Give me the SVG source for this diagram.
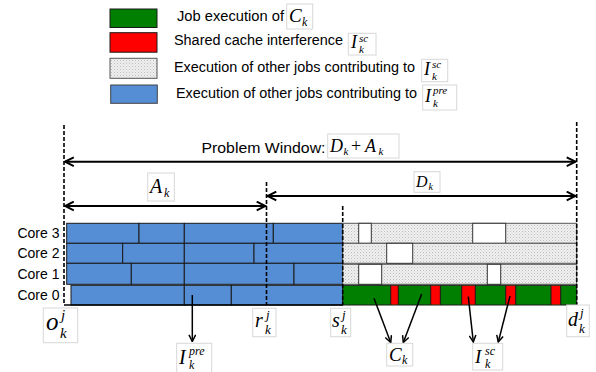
<svg xmlns="http://www.w3.org/2000/svg" width="596" height="372" viewBox="0 0 596 372">
  <style>
    .lbl { font-family: "Liberation Sans", Arial, sans-serif; fill: #000; }
    .math { font-family: "Liberation Serif", "DejaVu Serif", serif; font-style: italic; fill: #000; }
    .up { font-style: normal; }
    .mbox { fill: #fff; stroke: #d8d8d8; stroke-width: 1; }
    .blue { fill: #558ed5; stroke: #1a1a1a; stroke-width: 1; }
    .dot { fill: url(#dots); stroke: #555; stroke-width: 1; }
    .gap { fill: #fff; stroke: #333; stroke-width: 1; }
    .green { fill: #007f00; stroke: #1a1a1a; stroke-width: 1; }
    .red { fill: #ff0000; stroke: none; }
    .dash { stroke: #000; stroke-width: 1.6; stroke-dasharray: 4 2; fill: none; }
    .span { stroke: #000; stroke-width: 2; fill: none; marker-start: url(#open-start); marker-end: url(#open-end); }
    .ptr { stroke: #000; stroke-width: 1.5; fill: none; marker-end: url(#open-end); }
  </style>
  <defs>
    <pattern id="dots" width="3" height="3" patternUnits="userSpaceOnUse">
      <rect width="3" height="3" fill="#efefef"/>
      <rect x="0" y="0" width="1" height="1" fill="#bdbdbd"/>
      <rect x="1.5" y="1.5" width="1" height="1" fill="#cfcfcf"/>
    </pattern>
    <marker id="open-end" viewBox="0 0 10 10" refX="9" refY="5" markerWidth="5.5" markerHeight="5.5" orient="auto" markerUnits="strokeWidth">
      <path d="M1,1 L9,5 L1,9" fill="none" stroke="#000" stroke-width="1.8"/>
    </marker>
    <marker id="open-start" viewBox="0 0 10 10" refX="1" refY="5" markerWidth="5.5" markerHeight="5.5" orient="auto" markerUnits="strokeWidth">
      <path d="M9,1 L1,5 L9,9" fill="none" stroke="#000" stroke-width="1.8"/>
    </marker>
  </defs>

  <!-- legend -->
  <g id="legend">
    <g id="legend-job">
      <rect x="110" y="9" width="47" height="18.5" class="green"/>
      <text class="lbl" x="177" y="21" font-size="14" textLength="107" lengthAdjust="spacingAndGlyphs">Job execution of</text>
      <rect class="mbox" x="286.7" y="4" width="26" height="25"/>
      <text class="math" x="289" y="22" font-size="19">C</text>
      <text class="math" x="302" y="26" font-size="12">k</text>
    </g>
    <g id="legend-interference">
      <rect x="110" y="32.7" width="47" height="19.5" fill="#ff0000" stroke="#1a1a1a"/>
      <text class="lbl" x="174" y="45" font-size="14" textLength="169" lengthAdjust="spacingAndGlyphs">Shared cache interference</text>
      <rect class="mbox" x="348.3" y="33.3" width="27.7" height="21.7"/>
      <text class="math" x="351" y="48" font-size="18">I</text>
      <text class="math" x="359" y="42" font-size="11">sc</text>
      <text class="math" x="359" y="53" font-size="11">k</text>
    </g>
    <g id="legend-other-sc">
      <rect x="110" y="58.3" width="47" height="20" class="dot"/>
      <text class="lbl" x="174" y="72" font-size="14" textLength="241" lengthAdjust="spacingAndGlyphs">Execution of other jobs contributing to</text>
      <rect class="mbox" x="421.7" y="59.3" width="26" height="22.4"/>
      <text class="math" x="424" y="75" font-size="18">I</text>
      <text class="math" x="432" y="68" font-size="11">sc</text>
      <text class="math" x="432" y="80" font-size="11">k</text>
    </g>
    <g id="legend-other-pre">
      <rect x="110.7" y="85" width="46.6" height="18.3" fill="#558ed5" stroke="#444"/>
      <text class="lbl" x="176" y="98" font-size="14" textLength="241" lengthAdjust="spacingAndGlyphs">Execution of other jobs contributing to</text>
      <rect class="mbox" x="422.7" y="85" width="34" height="25"/>
      <text class="math" x="425" y="102" font-size="18">I</text>
      <text class="math" x="433" y="94" font-size="11">pre</text>
      <text class="math" x="433" y="107" font-size="11">k</text>
    </g>
  </g>

  <!-- core labels -->
  <g id="core-labels" class="lbl" font-size="14" text-anchor="end">
    <text x="59.5" y="238">Core 3</text>
    <text x="59.5" y="258">Core 2</text>
    <text x="59.5" y="278.5">Core 1</text>
    <text x="59.5" y="300">Core 0</text>
  </g>

  <!-- blue: other jobs before s_k -->
  <g id="pre-jobs">
    <rect class="blue" x="66.7" y="223.3" width="72.3" height="20"/>
    <rect class="blue" x="139" y="223.3" width="45.3" height="20"/>
    <rect class="blue" x="184.3" y="223.3" width="89" height="20" stroke-width="1.5"/>
    <rect class="blue" x="273.3" y="223.3" width="69.4" height="20"/>

    <rect class="blue" x="66.7" y="243.3" width="56" height="20"/>
    <rect class="blue" x="122.7" y="243.3" width="61.6" height="20"/>
    <rect class="blue" x="184.3" y="243.3" width="69.7" height="20"/>
    <rect class="blue" x="254" y="243.3" width="88.7" height="20"/>

    <rect class="blue" x="66.7" y="263.3" width="64.6" height="21"/>
    <rect class="blue" x="131.3" y="263.3" width="53" height="21"/>
    <rect class="blue" x="184.3" y="263.3" width="109.7" height="21"/>
    <rect class="blue" x="294" y="263.3" width="48.7" height="21"/>

    <rect class="blue" x="71" y="285.3" width="113.3" height="19.7"/>
    <rect class="blue" x="184.3" y="285.3" width="47" height="19.7"/>
    <rect class="blue" x="231.3" y="285.3" width="111.4" height="19.7"/>
  </g>

  <!-- dotted / idle: other jobs after s_k -->
  <g id="sc-jobs">
    <rect class="dot" x="342.7" y="223.3" width="234" height="20"/>
    <rect class="gap" x="358.7" y="223.3" width="12.6" height="20"/>
    <rect class="gap" x="472.7" y="223.3" width="33" height="20"/>

    <rect class="dot" x="342.7" y="243.3" width="234" height="20"/>
    <rect class="gap" x="386.7" y="243.3" width="26" height="20" stroke-width="1.5"/>

    <rect class="dot" x="342.7" y="264.3" width="234" height="20"/>
    <rect class="gap" x="358.7" y="264.3" width="23" height="20"/>
    <rect class="gap" x="487.3" y="264.3" width="13.4" height="20"/>
  </g>

  <!-- core 0: job C_k with shared cache interference -->
  <g id="core0-job">
    <rect class="green" x="342.7" y="285.3" width="234" height="19.7"/>
    <rect class="red" x="390.7" y="285.8" width="7.6" height="18.7"/>
    <rect class="red" x="430.7" y="285.8" width="9.6" height="18.7"/>
    <rect class="red" x="461.7" y="285.8" width="13.6" height="18.7"/>
    <rect class="red" x="505.7" y="285.8" width="10" height="18.7"/>
    <rect class="red" x="551" y="285.8" width="9.7" height="18.7"/>
    <g stroke="#1a1a1a" stroke-width="1">
      <line x1="390.7" y1="285.3" x2="390.7" y2="305"/>
      <line x1="398.3" y1="285.3" x2="398.3" y2="305"/>
      <line x1="430.7" y1="285.3" x2="430.7" y2="305"/>
      <line x1="440.3" y1="285.3" x2="440.3" y2="305"/>
      <line x1="461.7" y1="285.3" x2="461.7" y2="305"/>
      <line x1="475.3" y1="285.3" x2="475.3" y2="305"/>
      <line x1="505.7" y1="285.3" x2="505.7" y2="305"/>
      <line x1="515.7" y1="285.3" x2="515.7" y2="305"/>
      <line x1="551" y1="285.3" x2="551" y2="305"/>
      <line x1="560.7" y1="285.3" x2="560.7" y2="305"/>
    </g>
  </g>

  <!-- connectors: time markers, spans and label pointers -->
  <g id="connectors">
    <line x1="64" y1="305" x2="343" y2="305" stroke="#000" stroke-width="1.5"/>
    <line class="dash" x1="64" y1="125" x2="64" y2="305"/>
    <line class="dash" x1="266.5" y1="182" x2="266.5" y2="305"/>
    <line class="dash" x1="342.7" y1="206" x2="342.7" y2="305"/>
    <line class="dash" x1="576.7" y1="122" x2="576.7" y2="305"/>

    <line class="span" x1="65" y1="161.7" x2="575.5" y2="161.7"/>
    <line class="span" x1="65" y1="206" x2="265.5" y2="206"/>
    <line class="span" x1="267.5" y1="196" x2="575.5" y2="196"/>

    <line class="ptr" x1="192.3" y1="295" x2="192.3" y2="341.5"/>
    <line class="ptr" x1="374" y1="298.3" x2="390.7" y2="342.5"/>
    <line class="ptr" x1="421.7" y1="294" x2="403.3" y2="342.5"/>
    <line class="ptr" x1="468.3" y1="296.7" x2="473.3" y2="342"/>
    <line class="ptr" x1="510" y1="296" x2="498.3" y2="342"/>
  </g>

  <!-- span labels -->
  <g id="window-label">
    <text class="lbl" x="201.5" y="153" font-size="15.5" textLength="124" lengthAdjust="spacingAndGlyphs">Problem Window:</text>
    <rect class="mbox" x="327.7" y="134" width="71.3" height="24"/>
    <text class="math" x="330" y="152" font-size="18">D</text>
    <text class="math" x="343.5" y="155" font-size="11">k</text>
    <text class="math up" x="351" y="152" font-size="18">+</text>
    <text class="math" x="365" y="152" font-size="18">A</text>
    <text class="math" x="378.5" y="155" font-size="11">k</text>
  </g>
  <g id="a-label">
    <rect class="mbox" x="147.7" y="173" width="26.6" height="28"/>
    <text class="math" x="150" y="193" font-size="20">A</text>
    <text class="math" x="164" y="197" font-size="12">k</text>
  </g>
  <g id="d-label">
    <rect class="mbox" x="414" y="171.7" width="26" height="20.6"/>
    <text class="math" x="416" y="187" font-size="16">D</text>
    <text class="math" x="428.5" y="190" font-size="10">k</text>
  </g>

  <!-- time-point labels -->
  <g id="o-label">
    <rect class="mbox" x="43.3" y="308" width="34.4" height="34.7"/>
    <text class="math" x="46" y="330" font-size="25">o</text>
    <text class="math" x="61" y="320" font-size="15">j</text>
    <text class="math" x="60" y="338" font-size="15">k</text>
  </g>
  <g id="r-label">
    <rect class="mbox" x="252.7" y="308.3" width="23.3" height="28.4"/>
    <text class="math" x="255" y="327" font-size="20">r</text>
    <text class="math" x="266" y="319" font-size="13">j</text>
    <text class="math" x="265" y="334" font-size="13">k</text>
  </g>
  <g id="s-label">
    <rect class="mbox" x="330.7" y="308.3" width="20" height="28.4"/>
    <text class="math" x="332" y="327" font-size="20">s</text>
    <text class="math" x="342" y="319" font-size="13">j</text>
    <text class="math" x="341" y="334" font-size="13">k</text>
  </g>
  <g id="d-point-label">
    <rect class="mbox" x="566.7" y="305" width="22.6" height="31.7"/>
    <text class="math" x="568" y="326" font-size="20">d</text>
    <text class="math" x="580" y="317" font-size="13">j</text>
    <text class="math" x="579" y="333" font-size="13">k</text>
  </g>

  <!-- pointer labels -->
  <g id="ipre-label">
    <rect class="mbox" x="176.7" y="343.3" width="35" height="30"/>
    <text class="math" x="179" y="364" font-size="20">I</text>
    <text class="math" x="189" y="355" font-size="12">pre</text>
    <text class="math" x="189" y="369" font-size="12">k</text>
  </g>
  <g id="ck-label">
    <rect class="mbox" x="386.7" y="343.3" width="26" height="22.7"/>
    <text class="math" x="389" y="361" font-size="19">C</text>
    <text class="math" x="402" y="364" font-size="12">k</text>
  </g>
  <g id="isc-label">
    <rect class="mbox" x="472.7" y="343.3" width="30" height="26.7"/>
    <text class="math" x="475" y="363" font-size="19">I</text>
    <text class="math" x="485" y="355" font-size="12">sc</text>
    <text class="math" x="485" y="368" font-size="12">k</text>
  </g>
</svg>
